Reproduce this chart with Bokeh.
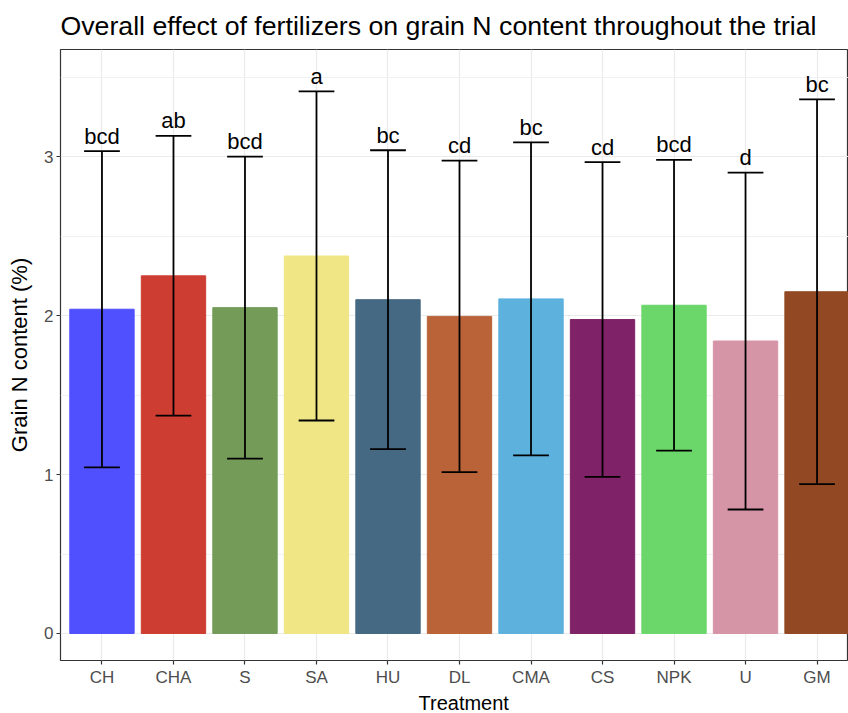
from bokeh.plotting import figure
from bokeh.models import FixedTicker, ColumnDataSource, Range1d, Title
from bokeh.core.properties import value
from bokeh.embed import file_html
from bokeh.resources import INLINE

treatments = ["CH", "CHA", "S", "SA", "HU", "DL", "CMA", "CS", "NPK", "U", "GM"]
means = [2.04, 2.25, 2.05, 2.375, 2.10, 1.995, 2.105, 1.975, 2.065, 1.84, 2.15]
sds = [0.995, 0.88, 0.95, 1.035, 0.94, 0.98, 0.985, 0.99, 0.915, 1.06, 1.21]
letters = ["bcd", "ab", "bcd", "a", "bc", "cd", "bc", "cd", "bcd", "d", "bc"]
colors = ["#5050FF", "#CE3D32", "#749B58", "#F0E685", "#466983", "#BA6338",
          "#5DB1DD", "#802268", "#6BD76B", "#D595A7", "#924822"]
y_ticks = [0, 1, 2, 3]

xs = list(range(1, len(treatments) + 1))
lower = [m - s for m, s in zip(means, sds)]
upper = [m + s for m, s in zip(means, sds)]
cap_half = 0.25

src = ColumnDataSource(dict(x=xs, top=means, lower=lower, upper=upper,
                            xl=[x - cap_half for x in xs],
                            xr=[x + cap_half for x in xs],
                            letter=letters, color=colors))

FONT = "Liberation Sans"

p = figure(width=848, height=713, output_backend="svg", toolbar_location=None,
           x_range=Range1d(0.42, 11.44), y_range=Range1d(-0.17, 3.674),
           min_border_left=60, min_border_right=0, min_border_top=49,
           min_border_bottom=49)
p.background_fill_color = "white"
p.border_fill_color = "white"
p.outline_line_color = "#333333"
p.outline_line_width = 1.2

p.title.text = "Overall effect of fertilizers on grain N content throughout the trial"
p.title.text_font = FONT
p.title.text_font_size = "26.7px"
p.title.text_font_style = "normal"
p.title.text_color = "black"
p.title.align = "left"
p.title.standoff = 17

p.vbar(x="x", top="top", bottom=0, width=0.9, color="color", source=src)
p.segment(x0="x", y0="lower", x1="x", y1="upper", line_color="black",
          line_width=1.8, source=src)
p.segment(x0="xl", y0="upper", x1="xr", y1="upper", line_color="black",
          line_width=1.8, source=src)
p.segment(x0="xl", y0="lower", x1="xr", y1="lower", line_color="black",
          line_width=1.8, source=src)
p.text(x="x", y="upper", text="letter", source=src, text_align="center",
       text_baseline="alphabetic", y_offset=-15, text_font=value(FONT),
       text_font_size="22px", text_color="black")

# axes
p.xaxis.ticker = FixedTicker(ticks=xs)
p.xaxis.major_label_overrides = {x: t for x, t in zip(xs, treatments)}
p.yaxis.ticker = FixedTicker(ticks=y_ticks, minor_ticks=[0.5, 1.5, 2.5, 3.5])
p.yaxis.axis_label = "Grain N content (%)"
for ax in (p.xaxis, p.yaxis):
    ax.axis_line_color = None
    ax.major_tick_line_color = "#333333"
    ax.major_tick_line_width = 1.2
    ax.major_tick_out = 4
    ax.major_tick_in = 0
    ax.minor_tick_line_color = None
    ax.major_label_text_font = FONT
    ax.major_label_text_font_size = "17px"
    ax.major_label_text_color = "#4D4D4D"
    ax.axis_label_text_font = FONT
    ax.axis_label_text_font_size = "22px"
    ax.axis_label_text_font_style = "normal"
    ax.axis_label_text_color = "black"
p.xaxis.major_label_standoff = 3
p.yaxis.major_label_standoff = 3
p.yaxis.axis_label_standoff = 9

# x axis title as a title below the axis (tight fit at the bottom edge)
xtitle = Title(text="Treatment", align="left", offset=358, standoff=0,
               text_font=FONT, text_font_size="20px", text_font_style="normal",
               text_color="black")
p.add_layout(xtitle, "below")

p.xgrid.grid_line_color = "#EBEBEB"
p.xgrid.grid_line_width = 1.2
p.ygrid.grid_line_color = "#EBEBEB"
p.ygrid.grid_line_width = 1.2
p.ygrid.minor_grid_line_color = "#EFEFEF"
p.ygrid.minor_grid_line_width = 0.9

open("out.html", "w").write(file_html(p, INLINE))
